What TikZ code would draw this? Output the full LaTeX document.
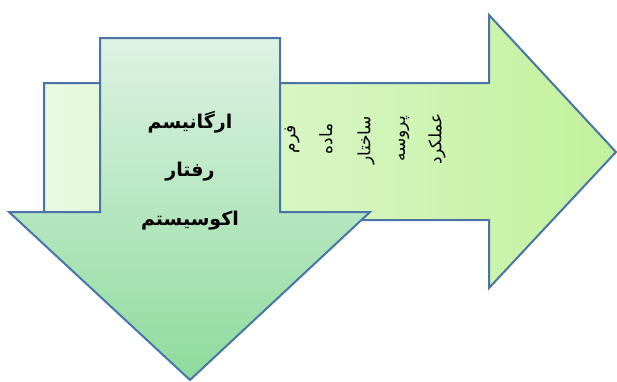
\documentclass[tikz,border=0pt]{standalone}
\usepackage{fontspec}
\newfontfamily\farsi[Script=Arabic]{DejaVu Sans}
\TeXXeTstate=1
\definecolor{edgeblue}{RGB}{74,116,168}
\definecolor{paleleft}{RGB}{232,249,224}
\definecolor{limeright}{RGB}{194,241,156}
\definecolor{mintop}{RGB}{222,242,228}
\definecolor{mintbottom}{RGB}{142,219,156}
\begin{document}
\begin{tikzpicture}[x=1pt, y=-1pt,
        arrowshape/.style={draw=edgeblue, line width=2pt, line join=miter},
        big/.style={font=\farsi\bfseries\fontsize{19}{22}\selectfont, anchor=center},
        small/.style={font=\farsi\fontsize{17}{20}\selectfont, rotate=90, anchor=center}]

        \useasboundingbox (0,0) rectangle (617,381);

        % right arrow
        \path[arrowshape, left color=paleleft, right color=limeright]
            (44,83) -- (489,83) -- (489,15) -- (616,152) -- (489,288)
            -- (489,220) -- (44,220) -- cycle;

        \node[small] (form)  at (292,139) {\beginR فرم\endR};
        \node[small] (madde) at (326,139) {\beginR ماده\endR};
        \node[small] (sakht) at (366,140) {\beginR ساختار\endR};
        \node[small] (pros)  at (404,139) {\beginR پروسه\endR};
        \node[small] (amal)  at (437,139) {\beginR عملکرد\endR};

        % down arrow
        \path[arrowshape, top color=mintop, bottom color=mintbottom]
            (100,38) -- (280,38) -- (280,212) -- (370,212) -- (190,380)
            -- (9,212) -- (100,212) -- cycle;

        \node[big] (org)  at (190,122) {\beginR ارگانیسم\endR};
        \node[big] (raft) at (190,172) {\beginR رفتار\endR};
        \node[big] (eco)  at (190,221) {\beginR اکوسیستم\endR};

    \end{tikzpicture}
\end{document}
